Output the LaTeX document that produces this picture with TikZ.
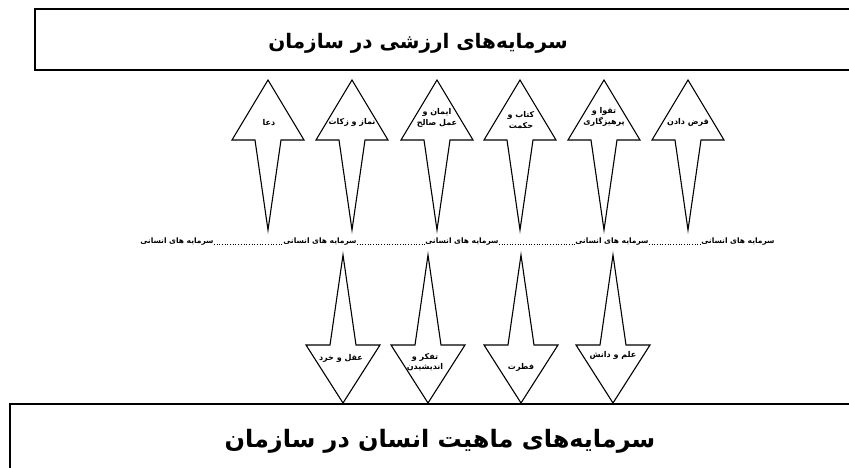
\documentclass[tikz,border=0pt]{standalone}
\usepackage{fontspec}
\newfontfamily\arabicfont[Script=Arabic]{DejaVu Sans}
\TeXXeTstate=1
\newcommand{\fatext}[1]{\beginR #1\endR}

\begin{document}
\begin{tikzpicture}[x=1pt, y=-1pt,
  box/.style={line width=1.6pt},
  arr/.style={draw, line width=1.1pt, line join=miter, fill=white},
  lbl/.style={font=\arabicfont\bfseries\fontsize{7.5}{10}\selectfont, align=center, inner sep=0pt},
  inlbl/.style={lbl, font=\arabicfont\bfseries\fontsize{8}{10.5}\selectfont},
  title/.style={font=\arabicfont\bfseries\fontsize{20}{24}\selectfont, inner sep=0pt},
  dots/.style={dotted, line width=0.7pt}]
  \useasboundingbox (0,0) rectangle (849,468);
  % title boxes
  \draw [box] (852,9) -- (35,9) -- (35,70) -- (852,70);
  \draw [box] (852,404) -- (10,404) -- (10,471);
  \node [title] (values) at (418,43) {\fatext{سرمایه‌های ارزشی در سازمان}};
  \node [title, font=\arabicfont\bfseries\fontsize{24}{28}\selectfont] (nature) at (440,441) {\fatext{سرمایه‌های ماهیت انسان در سازمان}};
  % up arrows
  \draw [arr] (268,80) -- ++(36,60) -- ++(-23,0) -- ++(-13,90) -- ++(-13,-90) -- ++(-23,0) -- cycle;
  \draw [arr] (352,80) -- ++(36,60) -- ++(-23,0) -- ++(-13,90) -- ++(-13,-90) -- ++(-23,0) -- cycle;
  \draw [arr] (437,80) -- ++(36,60) -- ++(-23,0) -- ++(-13,90) -- ++(-13,-90) -- ++(-23,0) -- cycle;
  \draw [arr] (520,80) -- ++(36,60) -- ++(-23,0) -- ++(-13,90) -- ++(-13,-90) -- ++(-23,0) -- cycle;
  \draw [arr] (604,80) -- ++(36,60) -- ++(-23,0) -- ++(-13,90) -- ++(-13,-90) -- ++(-23,0) -- cycle;
  \draw [arr] (688,80) -- ++(36,60) -- ++(-23,0) -- ++(-13,90) -- ++(-13,-90) -- ++(-23,0) -- cycle;
  \node [inlbl] (doa) at (269,123) {\fatext{دعا}};
  \node [inlbl] (namaz) at (352,122) {\fatext{نماز و زکات}};
  \node [inlbl] (iman) at (437,118) {\fatext{ایمان و}\\\fatext{عمل صالح}};
  \node [inlbl] (ketab) at (521,120) {\fatext{کتاب و}\\\fatext{حکمت}};
  \node [inlbl] (taqva) at (604,117) {\fatext{تقوا و}\\\fatext{پرهیزگاری}};
  \node [inlbl] (qarz) at (688,122) {\fatext{قرض دادن}};
  % human capital line
  \node [lbl] (h1) at (177,242) {\fatext{سرمایه های انسانی}};
  \node [lbl] (h2) at (320,242) {\fatext{سرمایه های انسانی}};
  \node [lbl] (h3) at (462,242) {\fatext{سرمایه های انسانی}};
  \node [lbl] (h4) at (612,242) {\fatext{سرمایه های انسانی}};
  \node [lbl] (h5) at (738,242) {\fatext{سرمایه های انسانی}};
  \draw [dots] (h1.base east) -- (h2.base west);
  \draw [dots] (h2.base east) -- (h3.base west);
  \draw [dots] (h3.base east) -- (h4.base west);
  \draw [dots] (h4.base east) -- (h5.base west);
  % down arrows
  \draw [arr] (343,255) -- ++(13,90) -- ++(24,0) -- ++(-37,58) -- ++(-37,-58) -- ++(24,0) -- cycle;
  \draw [arr] (428,255) -- ++(13,90) -- ++(24,0) -- ++(-37,58) -- ++(-37,-58) -- ++(24,0) -- cycle;
  \draw [arr] (521,255) -- ++(13,90) -- ++(24,0) -- ++(-37,58) -- ++(-37,-58) -- ++(24,0) -- cycle;
  \draw [arr] (613,255) -- ++(13,90) -- ++(24,0) -- ++(-37,58) -- ++(-37,-58) -- ++(24,0) -- cycle;
  \node [inlbl] (aql) at (341,358) {\fatext{عقل و خرد}};
  \node [inlbl] (tafakkor) at (425,362) {\fatext{تفکر و}\\\fatext{اندیشیدن}};
  \node [inlbl] (fetrat) at (521,367) {\fatext{فطرت}};
  \node [inlbl] (elm) at (613,355) {\fatext{علم و دانش}};
\end{tikzpicture}
\end{document}
